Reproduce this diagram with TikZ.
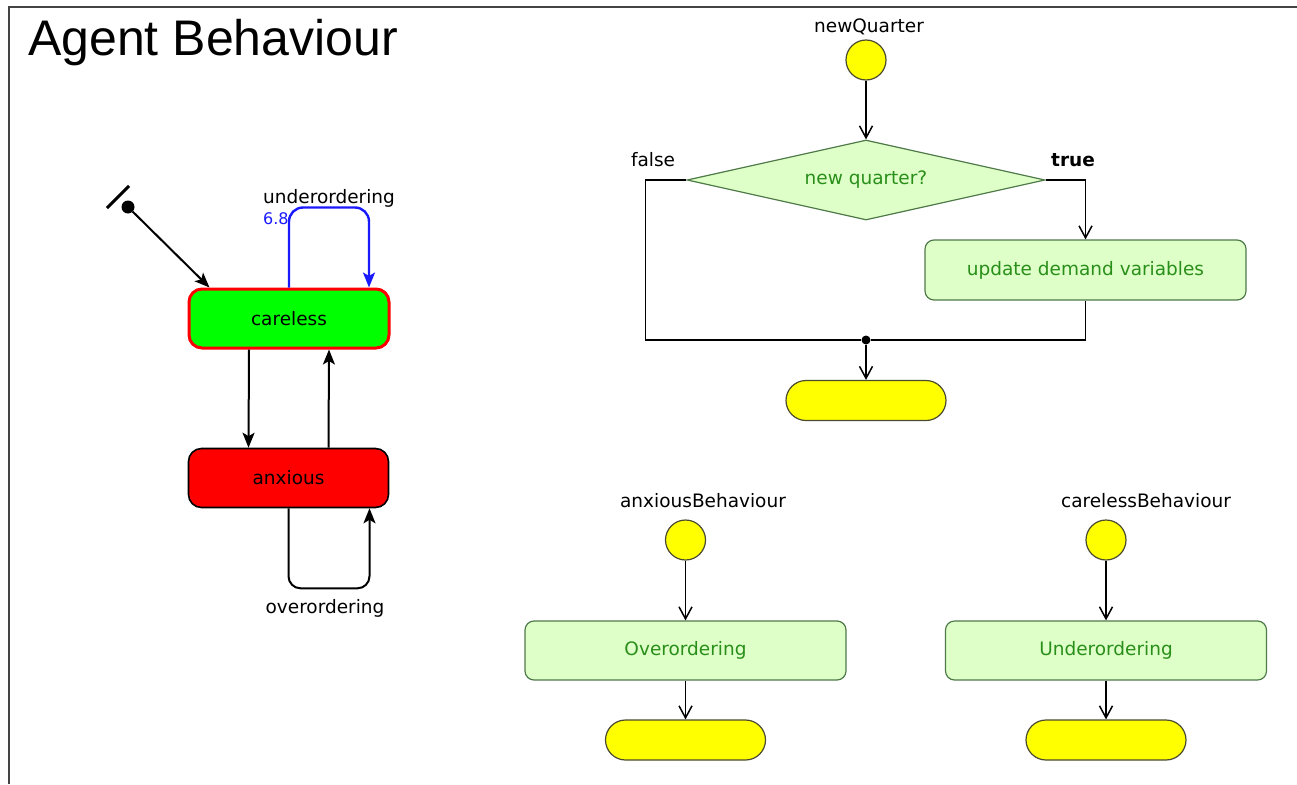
\documentclass[tikz,border=0pt]{standalone}
\usepackage{fontspec}
\setmainfont{DejaVu Sans}
\newfontfamily\titlefont{Liberation Sans}
\usetikzlibrary{arrows.meta,shapes.geometric}

\definecolor{actfill}{HTML}{DEFFC8}
\definecolor{actdraw}{HTML}{4F7A48}
\definecolor{acttext}{HTML}{2A8F1A}
\definecolor{termdraw}{HTML}{4A4A30}
\definecolor{termfill}{RGB}{255,255,0}
\definecolor{carefill}{RGB}{0,255,0}
\definecolor{statered}{RGB}{255,0,0}
\definecolor{loopblue}{HTML}{1A1AFF}
\definecolor{framegray}{HTML}{444444}

\tikzset{
  lbl/.style={font=\fontsize{18.5}{22}\selectfont, inner sep=0pt},
  statebox/.style={rectangle, rounded corners=13pt, minimum width=200pt, minimum height=59pt, lbl},
  stateline/.style={line width=2pt, -{Stealth[length=15pt,width=12pt,inset=3.5pt]}},
  actbox/.style={rectangle, rounded corners=9pt, draw=actdraw, line width=1.2pt, fill=actfill, text=acttext, lbl},
  startdot/.style={circle, draw=termdraw, fill=termfill, line width=1.2pt, minimum size=40pt, inner sep=0pt},
  enddot/.style={rectangle, rounded corners=20pt, draw=termdraw, fill=termfill, line width=1.2pt, minimum width=160pt, minimum height=40pt},
  flow/.style={line width=1.5pt, -{Straight Barb[length=12pt,width=13pt,line width=1.5pt]}},
  flowline/.style={line width=1.5pt},
}

\begin{document}
\begin{tikzpicture}[x=1pt,y=-1pt]
    \useasboundingbox (0,0) rectangle (1297,784);
    % Frame and title
    \draw[framegray, line width=2pt] (9,784) -- (9,7) -- (1297,7);
    \node[anchor=base west, inner sep=0pt, font=\titlefont\fontsize{50}{60}\selectfont] (title) at (28,56) {Agent Behaviour};

    % Statechart
    \node[statebox, draw=statered, line width=3pt, fill=carefill] (careless) at (289,318.5) {careless};
    \node[statebox, draw=black, line width=1.6pt, fill=statered] (anxious) at (288.5,478) {anxious};

    % Initial pseudo state
    \node[circle, fill=black, inner sep=0pt, minimum size=13pt] (init) at (128,207) {};
    \draw[line width=3pt] ([shift={(-21,1)}]init.center) -- ([shift={(1,-21)}]init.center);
    \draw[stateline] (init) -- ([xshift=22pt]careless.north west);

    % Transitions between the states
    \draw[stateline] ([xshift=-40pt]careless.south) -- ([xshift=-40pt]anxious.north);
    \draw[stateline] ([xshift=40pt]anxious.north) -- ([xshift=40pt]careless.south);

    % Self loops
    \draw[stateline, loopblue, line width=2.4pt, rounded corners=14pt] (careless.north) -- ++(0,-80) -| ([xshift=80pt]careless.north);
    \node[lbl, anchor=west] (underlbl) at (263,198) {underordering};
    \node[lbl, anchor=west, text=loopblue, font=\fontsize{16}{19}\selectfont] (prob) at (263,219) {6.8};
    \draw[stateline, rounded corners=12pt] (anxious.south) -- ++(0,80) -| ([xshift=81pt]anxious.south);
    \node[lbl] (overlbl) at (325,608) {overordering};

    % Flowchart newQuarter
    \node[startdot] (nq) at (866,60) {};
    \node[lbl] (nqlbl) at (869,27) {newQuarter};
    \node[diamond, aspect=4.5, minimum width=358pt, minimum height=80pt, draw=actdraw, line width=1.2pt, fill=actfill, text=acttext, lbl] (newq) at (866,180) {new quarter?};
    \node[lbl] (falselbl) at (653,160) {false};
    \node[lbl, font=\fontsize{18.5}{22}\selectfont\bfseries] (truelbl) at (1073,160) {true};
    \node[actbox, minimum width=321pt, minimum height=60pt] (update) at (1085.5,270) {update demand variables};
    \node[circle, fill=black, inner sep=0pt, minimum size=9pt] (merge) at (866,340) {};
    \node[enddot] (nqend) at (866,400.5) {};

    \draw[flow] (nq) -- (newq);
    \draw[flow] (newq.east) -| (update.north);
    \draw[flowline] (newq.west) -- ++(-41,0) |- (merge);
    \draw[flowline] (update.south) |- (merge);
    \draw[flow] (merge) -- (nqend);

    % Flowcharts of the two behaviours
    \foreach \nm/\cx/\lx/\evt/\act in {anx/685.5/703/anxiousBehaviour/Overordering, car/1106/1146/carelessBehaviour/Underordering} {
        \node[startdot] (\nm start) at (\cx,540) {};
        \node[lbl] (\nm lbl) at (\lx,501) {\evt};
        \node[actbox, minimum width=321pt, minimum height=59pt] (\nm act) at (\cx,650.5) {\act};
        \node[enddot] (\nm end) at (\cx,740) {};
        \draw[flow] (\nm start) -- (\nm act);
        \draw[flow] (\nm act) -- (\nm end);
    }
\end{tikzpicture}
\end{document}
